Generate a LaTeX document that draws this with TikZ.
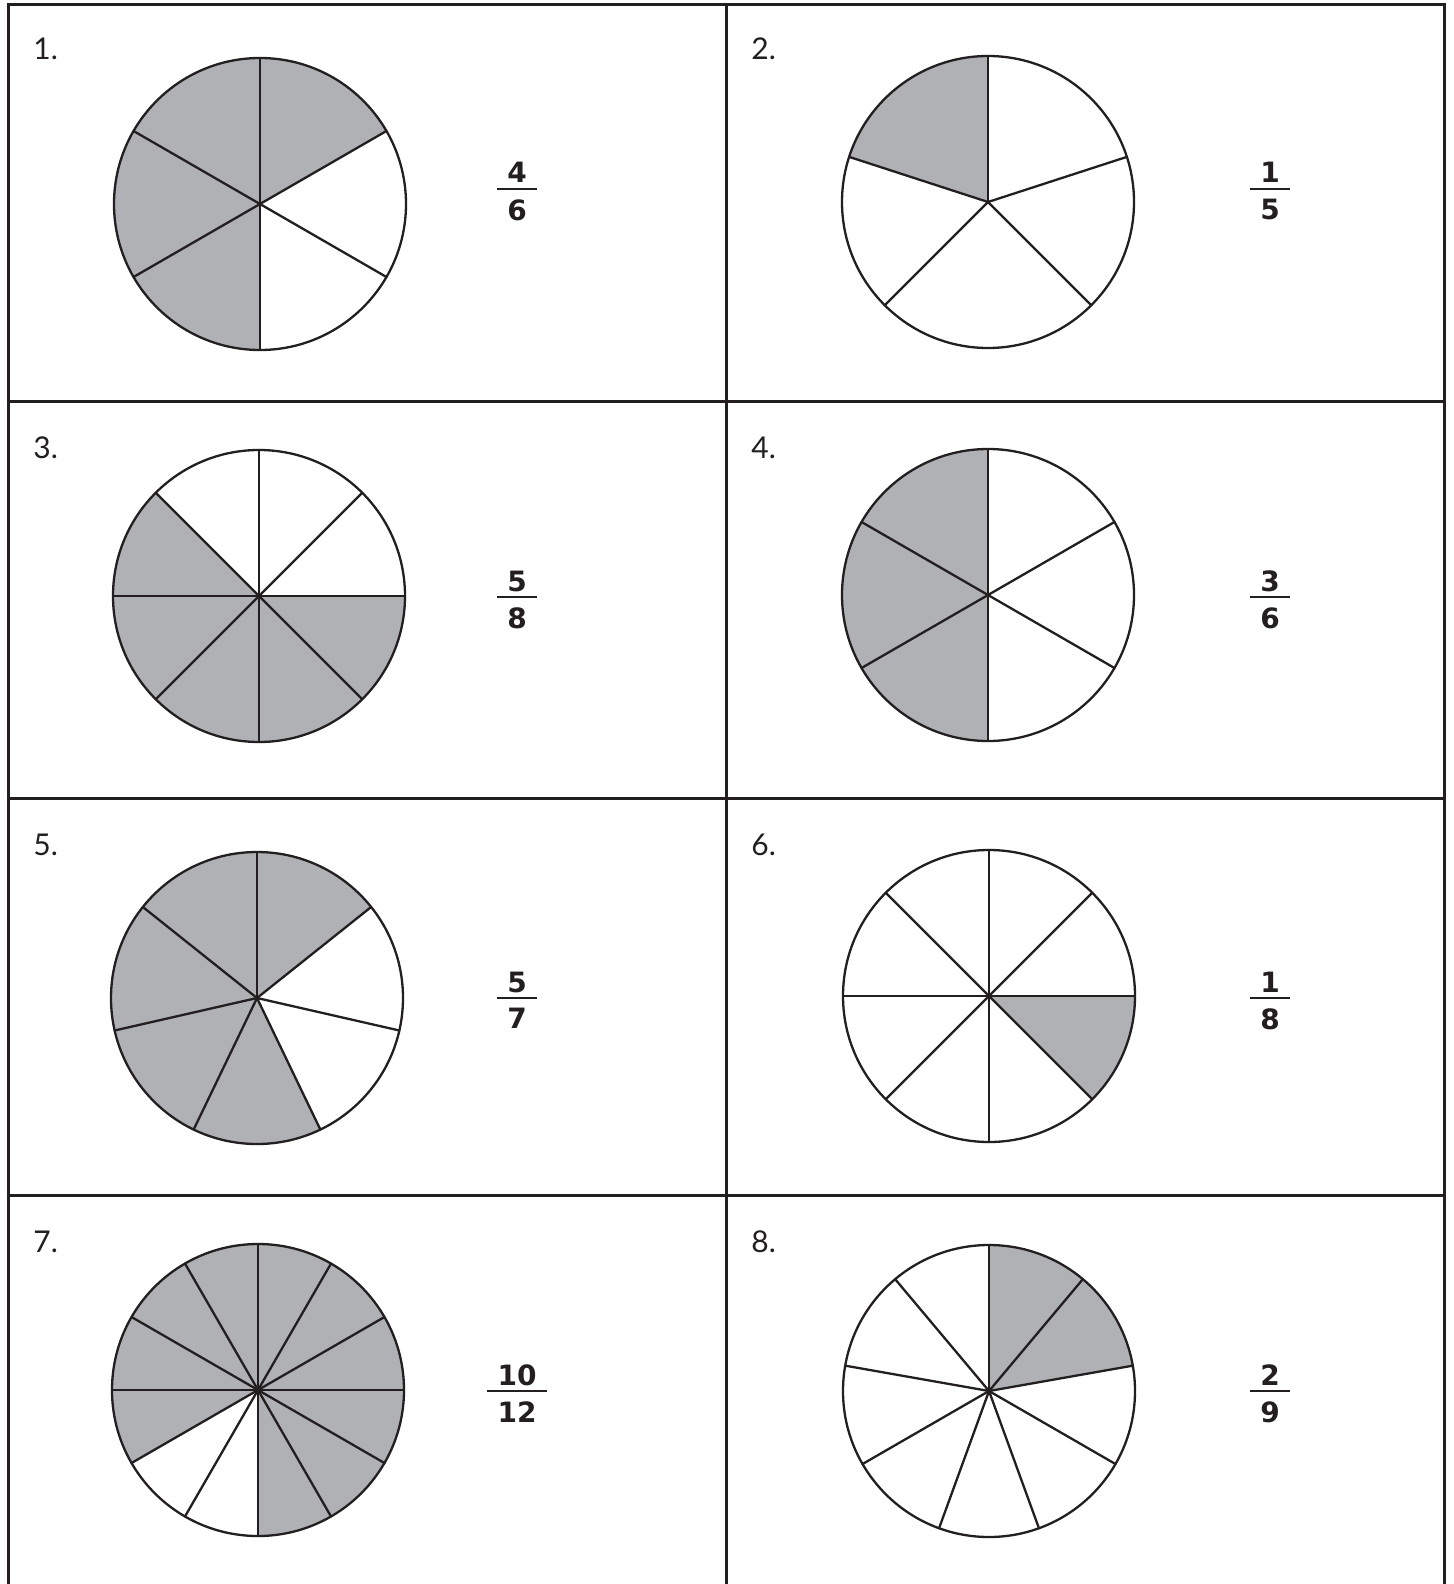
\documentclass[tikz,border=0pt]{standalone}
\usepackage{fontspec}
\setmainfont{Lato}
\newfontfamily\fracfont{DejaVu Sans}
\definecolor{ink}{HTML}{231F20}
\definecolor{shade}{HTML}{B0B1B5}
\tikzset{
  frameline/.style={draw=ink, line width=1.5pt},
  pieline/.style={draw=ink, line width=1.15pt, line cap=round},
  slice/.style={fill=shade},
  numlabel/.style={font=\fontsize{15}{18}\selectfont, text=ink, anchor=base west, inner sep=0pt},
  fracdigit/.style={font=\fracfont\bfseries\fontsize{14}{16}\selectfont, text=ink, inner sep=0pt},
  fracbar/.style={draw=ink, line width=1.1pt},
}
\newcommand{\pieR}{146}
% #1 centre name, #2 number of sectors, #3 shaded sector indices (clockwise from top)
\newcommand{\piechart}[3]{%
  \foreach \k in {#3} {
    \fill[slice] (#1) -- ++({90-\k*360/#2}:\pieR)
      arc[start angle={90-\k*360/#2}, end angle={90-(\k+1)*360/#2}, radius=\pieR] -- cycle;
  }
  \foreach \k in {1,...,#2} {
    \draw[pieline] (#1) -- ++({90-\k*360/#2}:\pieR);
  }
  \draw[pieline] (#1) circle[radius=\pieR];
}
% #1 id, #2 x, #3 y (bar), #4 numerator, #5 denominator, #6 half bar width
\newcommand{\fracat}[6]{%
  \node[fracdigit, anchor=base] (num#1) at (#2,{-(#3-6)}) {#4};
  \node[fracdigit, anchor=north] (den#1) at (#2,{-(#3+10)}) {#5};
  \coordinate (bl#1) at ({#2-#6},-#3);
  \coordinate (br#1) at ({#2+#6},-#3);
  \draw[fracbar] (bl#1) -- (br#1);
}
\begin{document}
\begin{tikzpicture}[x=0.5pt, y=0.5pt]
  \useasboundingbox (0,0) rectangle (1454,-1584);
  \clip (0,0) rectangle (1454,-1584);
  % grid frame
  \draw[frameline] (8,-1600) -- (8,-4.5) -- (1444,-4.5) -- (1444,-1600);
  \draw[frameline] (726,-4.5) -- (726,-1600);
  \foreach \yy in {401,798,1195} {
    \draw[frameline] (8,-\yy) -- (1444,-\yy);
  }
  % panel labels
  \node[numlabel] (l1) at (33,-60) {1.};
  \node[numlabel] (l2) at (751,-60) {2.};
  \node[numlabel] (l3) at (33,-458) {3.};
  \node[numlabel] (l4) at (751,-458) {4.};
  \node[numlabel] (l5) at (33,-855) {5.};
  \node[numlabel] (l6) at (751,-855) {6.};
  \node[numlabel] (l7) at (33,-1252) {7.};
  \node[numlabel] (l8) at (751,-1252) {8.};
  % pie centres
  \coordinate (c1) at (260,-204);
  \coordinate (c2) at (988,-202);
  \coordinate (c3) at (259,-596);
  \coordinate (c4) at (988,-595);
  \coordinate (c5) at (257,-998);
  \coordinate (c6) at (989,-996);
  \coordinate (c7) at (258,-1390);
  \coordinate (c8) at (989,-1391);
  % pies
  \piechart{c1}{6}{0,3,4,5}
  % pie 2 (irregular fifths as drawn)
  \fill[slice] (c2) -- ++(90:\pieR) arc[start angle=90, end angle=162, radius=\pieR] -- cycle;
  \foreach \a in {90,18,-45,-135,162} {
    \draw[pieline] (c2) -- ++(\a:\pieR);
  }
  \draw[pieline] (c2) circle[radius=\pieR];
  \piechart{c3}{8}{2,3,4,5,6}
  \piechart{c4}{6}{3,4,5}
  \piechart{c5}{7}{0,3,4,5,6}
  \piechart{c6}{8}{2}
  \piechart{c7}{12}{0,1,2,3,4,5,8,9,10,11}
  \piechart{c8}{9}{0,1}
  % fractions
  \fracat{1}{517}{189}{4}{6}{20}
  \fracat{2}{1270}{189}{1}{5}{20}
  \fracat{3}{517}{597}{5}{8}{20}
  \fracat{4}{1270}{597}{3}{6}{20}
  \fracat{5}{517}{998}{5}{7}{20}
  \fracat{6}{1270}{998}{1}{8}{20}
  \fracat{7}{517}{1391}{10}{12}{30}
  \fracat{8}{1270}{1391}{2}{9}{20}
\end{tikzpicture}
\end{document}
